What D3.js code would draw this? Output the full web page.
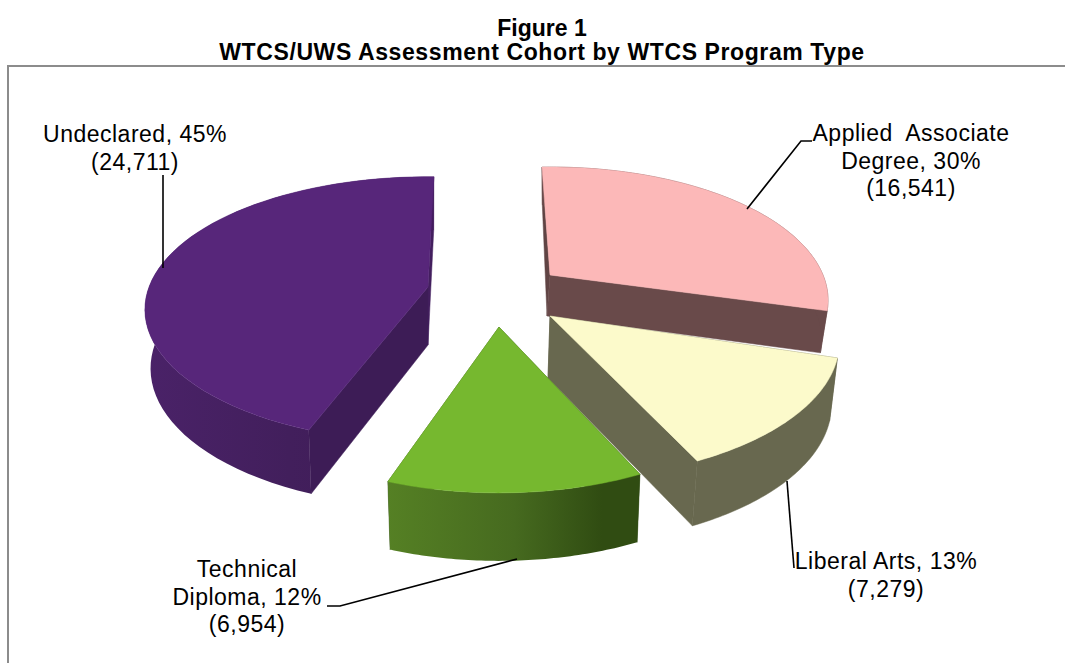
<!DOCTYPE html>
<html><head><meta charset="utf-8">
<script src="https://cdn.jsdelivr.net/npm/d3@7/dist/d3.min.js"></script>
<style>html,body{margin:0;padding:0;background:#fff}svg{display:block}text{font-family:"Liberation Sans",Arial,sans-serif;fill:#000;white-space:pre}</style>
</head><body><svg id="c" width="1065" height="663"></svg>
<script>
// ---- data ----
const categories = ["Applied Associate Degree", "Liberal Arts", "Technical Diploma", "Undeclared"];
const counts = [16541, 7279, 6954, 24711];
const percentLabels = ["30%", "13%", "12%", "45%"];
const titleLines = ["Figure 1", "WTCS/UWS Assessment Cohort by WTCS Program Type"];
const labelLines = [
  ["Applied  Associate", "Degree, 30%", "(16,541)"],
  ["Liberal Arts, 13%", "(7,279)"],
  ["Technical", "Diploma, 12%", "(6,954)"],
  ["Undeclared, 45%", "(24,711)"]
];
// ---- appearance ----
const topColors = ["#fcb8b8", "#fcfacb", "#76b82f", "#57267a"];
const sideColors = ["#694a4a", "#68684f", "#365318", "#431f5e"];
// per slice projection of the exploded 3D pie
const geom = [
  {cx:550, cy:275, rx:273, ry:128.5, k:.19, depth:41, shift:-3, sx:.99, sy:1.03, skew:-.03, turn:-2},
  {cx:550, cy:316, rx:284, ry:133, k:.19, depth:62, shift:-2, sx:.98, sy:1.02, skew:0, turn:0},
  {cx:499, cy:327, rx:283.6, ry:141, k:.15, depth:68, shift:0, sx:.98, sy:1, skew:0, turn:0},
  {cx:428, cy:287, rx:279, ry:129, k:.17, depth:58, shift:0, sx:.98, sy:1.04, skew:0, turn:1.4}
];
const leaders = [
  [[747,209],[801,141],[812,141]],
  [[787,481],[794,568]],
  [[517,559],[340,606],[327,606]],
  [[163,268],[163,175]]
];
const labelPos = [[911,141],[886,569],[247,577],[135,142]];
const labelLineHeight = 27.5;

const svg = d3.select("#c");
const defs = svg.append("defs");
const wallGrad = (id, stops) => {
  const g = defs.append("linearGradient").attr("id", id).attr("x1",0).attr("x2",1).attr("y1",0).attr("y2",0);
  stops.forEach(([o,c]) => g.append("stop").attr("offset",o).attr("stop-color",c));
};
wallGrad("wallGreen", [[0,"#558024"],[.5,"#466a1f"],[.85,"#304c12"],[1,"#304c12"]]);
wallGrad("wallPurple", [[0,"#4a2268"],[.5,"#421f5c"],[.85,"#401c58"],[1,"#431b5e"]]);

// frame
svg.append("path").attr("d","M8,663V66H1065").attr("fill","none").attr("stroke","#8c8c8c").attr("stroke-width",2);

// title
svg.append("g").selectAll("text").data(titleLines).join("text")
  .attr("x",542).attr("y",(d,i)=>36+i*24).attr("text-anchor","middle")
  .attr("font-weight","bold").attr("font-size",23)
  .attr("letter-spacing",(d,i)=>i? .6 : 0).text(d=>d);

// angles come from the data
const pie = d3.pie().sort(null).startAngle(0).endAngle(2*Math.PI);
const arcs = pie(counts);

const project = (g, a) => {
  const u = Math.sin(a), v = Math.cos(a), d = 1 + g.k * v;
  return [g.rx * u / d, -g.ry * v / d];
};
const topPt = (g,p) => [g.cx + p[0], g.cy + p[1]];
const botPt = (g,p) => [g.cx + g.shift + g.sx * p[0] + g.skew * p[1], g.cy + g.depth + g.sy * p[1]];
const line = d3.line();

const sliceOrder = [3,0,1,2];
const layer = svg.append("g");
sliceOrder.forEach(i => {
  const g = geom[i], s = arcs[i], t = g.turn * Math.PI / 180;
  const angs = d3.range(0, 61).map(j => s.startAngle + t + (s.endAngle - s.startAngle) * j / 60);
  const pts = angs.map(a => project(g,a));
  const apex = [0,0];
  const side = sideColors[i];
  const draw = (ps, fill) => layer.append("path").attr("d", line(ps)+"Z").attr("fill",fill).attr("stroke",fill.startsWith("url")?"none":fill).attr("stroke-width",.5);
  // radial walls
  const first = pts[0], last = pts[pts.length-1];
  draw([topPt(g,apex),topPt(g,first),botPt(g,first),botPt(g,apex)], d3.color(side).darker(.25).formatHex());
  draw([topPt(g,apex),topPt(g,last),botPt(g,last),botPt(g,apex)], side);
  // outer wall
  const fill = i===2 ? "url(#wallGreen)" : i===3 ? "url(#wallPurple)" : side;
  draw(pts.map(p=>topPt(g,p)).concat(pts.slice().reverse().map(p=>botPt(g,p))), fill);
  // top face
  draw([topPt(g,apex)].concat(pts.map(p=>topPt(g,p))), topColors[i]);
});

// leaders
svg.append("g").selectAll("path").data(leaders).join("path")
  .attr("d",d=>line(d)).attr("fill","none").attr("stroke","#000").attr("stroke-width",1.6);

// labels
labelLines.forEach((ls,i)=>{
  const [x,y] = labelPos[i];
  svg.append("g").selectAll("text").data(ls).join("text")
    .attr("x",x).attr("y",(d,j)=>y+j*labelLineHeight).attr("text-anchor","middle")
    .attr("font-size",23).attr("letter-spacing",.5).text(d=>d);
});
</script></body></html>
